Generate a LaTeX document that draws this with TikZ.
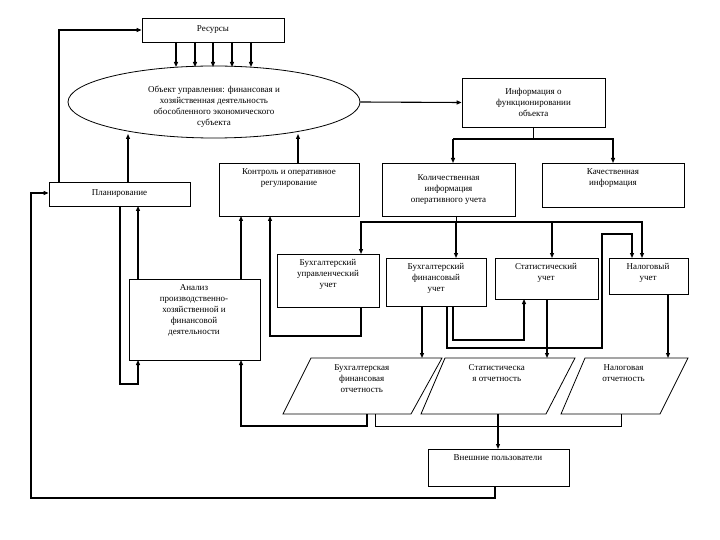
\documentclass[tikz,border=0pt]{standalone}
\usepackage{fontspec}
\setmainfont{Liberation Serif}
\usetikzlibrary{shapes.geometric,arrows.meta}
\begin{document}
\begin{tikzpicture}[x=1pt,y=-1pt,
  box/.style={draw,line width=0.8pt,align=center,inner sep=1pt},
  tx/.style={align=center,font=\fontsize{9}{11}\selectfont},
  ln/.style={line width=0.8pt},
  ar/.style={line width=1.1pt,-{Triangle[length=5pt,width=4pt]}},
  every node/.style={anchor=center}]
\useasboundingbox (0,0) rectangle (720,540);
\newcommand{\bx}[5]{\node[box,minimum width={#3-#2},minimum height={#5-#4}] (#1) at ({(#2+#3)/2},{(#4+#5)/2}) {};}
\newcommand{\pg}[6]{\draw[ln] (#2,358) -- (#3,358) -- (#5,414) -- (#4,414) -- cycle; \node[tx,anchor=north] (#1) at ({(#2+#3+#4+#5)/4},361) {#6};}
\bx{res}{142}{284}{18}{42}
\node[tx] at (res.center) {Ресурсы};
\node[draw,ellipse,line width=0.8pt,minimum width=292,minimum height=72,inner sep=0pt] (obj) at (214,102) {};
\node[tx] at (214,107) {Объект управления: финансовая и\\хозяйственная деятельность\\обособленного экономического\\субъекта};
\bx{plan}{49}{190}{182}{206}
\node[tx] at (plan.center) {Планирование};
\bx{ctrl}{219}{359}{163}{216}
\node[tx,anchor=north] at (289,165) {Контроль и оперативное\\регулирование};
\bx{inf}{462}{605}{78}{127}
\node[tx] at (inf.center) {Информация о\\функционировании\\объекта};
\bx{kol}{382}{515}{163}{216}
\node[tx] at (kol.center) {Количественная\\информация\\оперативного учета};
\bx{kach}{542}{684}{163}{207}
\node[tx,anchor=north] at (613,165) {Качественная\\информация};
\bx{bu}{277}{379}{254}{307}
\node[tx,anchor=north] at (328,256) {Бухгалтерский\\управленческий\\учет};
\bx{bf}{386}{486}{258}{306}
\node[tx,anchor=north] at (436,260) {Бухгалтерский\\финансовый\\учет};
\bx{st}{495}{598}{258}{299}
\node[tx,anchor=north] at (546,260) {Статистический\\учет};
\bx{nal}{609}{688}{258}{294}
\node[tx,anchor=north] at (648,260) {Налоговый\\учет};
\bx{an}{129}{260}{279}{360}
\node[tx,anchor=north] at (194,281) {Анализ\\производственно-\\хозяйственной и\\финансовой\\деятельности};
\pg{bo}{311}{442}{283}{411}{Бухгалтерская\\финансовая\\отчетность}
\pg{so}{445}{575}{421}{546}{Статистическа\\я отчетность}
\pg{no}{585}{688}{561}{660}{Налоговая\\отчетность}
\bx{ext}{428}{569}{449}{486}
\node[tx,anchor=north] at (498,451) {Внешние пользователи};
% resources to object
\foreach \x in {176,195,213,232,251} \draw[ar] (\x,42) -- (\x,67);
\draw[ar] (plan.north -| 128,0) -- (128,134);
\draw[ar] (ctrl.north -| 298,0) -- (298,134);
\draw[ar] (59,182) -- (59,30) -- (res.west |- 0,30);
\draw[ar] (obj.east) -- (inf.west);
\draw[ln] (533,127) -- (533,139);
\draw[ar] (453,139) -- (453,163);
\draw[ar] (453,139) -- (613,139) -- (613,163);
\draw[ln] (456,216) -- (456,222);
\draw[ar] (360,222) -- (642,222) -- (642,258);
\draw[ar] (360,222) -- (361,222) -- (361,254);
\draw[ar] (456,222) -- (456,258);
\draw[ar] (552,222) -- (552,258);
\draw[ar] (447,306) -- (447,348) -- (602,348) -- (602,234) -- (632,234) -- (632,258);
\draw[ar] (453,306) -- (453,340) -- (524,340) -- (524,299);
\draw[ar] (422,306) -- (422,358);
\draw[ar] (547,299) -- (547,358);
\draw[ar] (668,294) -- (668,358);
\draw[ar] (367,414) -- (367,426) -- (241,426) -- (241,360);
\draw[ln] (375,414) -- (375,426) -- (621,426) -- (621,414);
\draw[ar] (498,414) -- (498,449);
\draw[ar] (495,486) -- (495,498) -- (31,498) -- (31,193) -- (plan.west |- 0,193);
\draw[ar] (120,206) -- (120,384) -- (138,384) -- (138,360);
\draw[ar] (138,279) -- (138,206);
\draw[ar] (241,279) -- (241,216);
\draw[ar] (361,307) -- (361,336) -- (270,336) -- (270,216);
\end{tikzpicture}
\end{document}
